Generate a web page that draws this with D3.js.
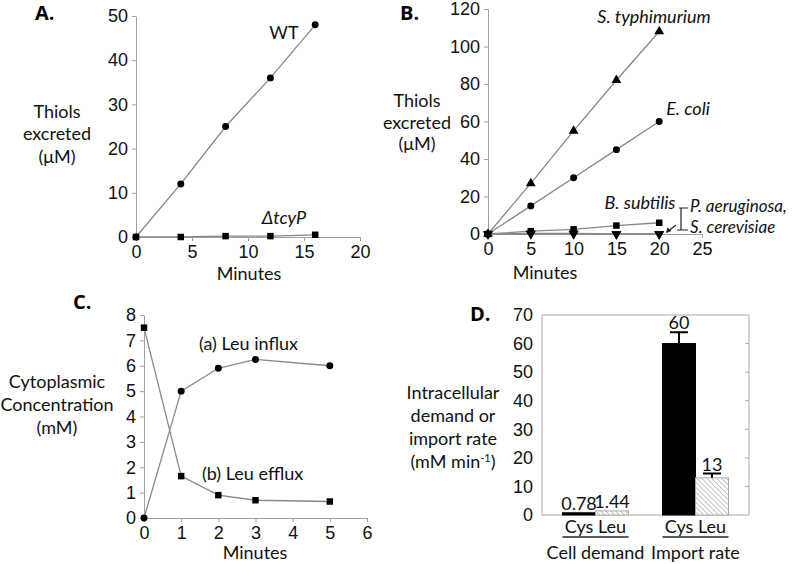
<!DOCTYPE html>
<html>
<head>
<meta charset="utf-8">
<script src="https://cdn.jsdelivr.net/npm/d3@7"></script>
<style>
  body { margin: 0; background: #fff; }
  svg { font-family: Lato, "Open Sans", sans-serif; }
  .axis path, .axis line { stroke: #a0a0a0; }
  .axis text { font-size: 18px; fill: #111; }
  .series { fill: none; stroke: #888; stroke-width: 1.3; }
  .lbl { font-size: 18px; fill: #111; }
</style>
</head>
<body>
<div id="chart"></div>
<script>
// PANEL A DATA
const aMinutes = [0, 4, 8, 12, 16];
const aWT = [0, 12, 25, 36, 48];
const aTcyP = [0, 0, 0.2, 0.2, 0.5];

// PANEL B DATA
const bMinutes = [0, 5, 10, 15, 20];
const bTyphi = [0, 27, 55, 82, 108];
const bColi = [0, 15, 30, 45, 60];
const bSubtilis = [0, 1.5, 2.5, 4.5, 6];
const bAerug = [0, 0.3, 0.3, 0, 0];
const bCerev = [0, 0, 0, 0, 0];

// PANEL C DATA
const cMinutes = [0, 1, 2, 3, 5];
const cInflux = [0, 5, 5.9, 6.25, 6];
const cEfflux = [7.5, 1.65, 0.9, 0.7, 0.65];

// PANEL D DATA
const dGroups = ["Cell demand", "Import rate"];
const dAcids = ["Cys", "Leu"];
const dValues = [[0.78, 1.44], [60, 13]];
const dLabels = [["0.78", "1.44"], ["60", "13"]];
const dErrors = [[0, 0], [4, 1.5]];

const width = 800, height = 564;

const svg = d3.select("#chart").append("svg")
    .attr("width", width)
    .attr("height", height);

// hatch pattern for Leu bars
const pat = svg.append("defs").append("pattern")
    .attr("id", "hatch")
    .attr("width", 3.5).attr("height", 3.5)
    .attr("patternUnits", "userSpaceOnUse")
    .attr("patternTransform", "rotate(-45)");
pat.append("rect").attr("width", 3.5).attr("height", 3.5).attr("fill", "#fff");
pat.append("line").attr("x1", 0).attr("y1", 0).attr("x2", 0).attr("y2", 3.5)
    .attr("stroke", "#999").attr("stroke-width", 1.2);

/***** helpers *****/
function drawAxes(x, y, xTicks, yTicks) {
    svg.append("g").attr("class", "axis")
        .attr("transform", `translate(0,${y.range()[0]})`)
        .call(d3.axisBottom(x).tickValues(xTicks).tickFormat(d3.format("d"))
            .tickSize(4).tickPadding(4).tickSizeOuter(0));
    svg.append("g").attr("class", "axis")
        .attr("transform", `translate(${x.range()[0]},0)`)
        .call(d3.axisLeft(y).tickValues(yTicks).tickSize(4).tickPadding(4).tickSizeOuter(0));
}

function drawSeries(x, y, xs, ys, marker) {
    const pts = xs.map((v, i) => ({x: v, y: ys[i]}));
    svg.append("path").datum(pts).attr("class", "series")
        .attr("d", d3.line().x(d => x(d.x)).y(d => y(d.y)));
    const sym = d3.symbol().type(marker.type).size(marker.size);
    svg.append("g").selectAll("path").data(pts).join("path")
        .attr("transform", d => `translate(${x(d.x)},${y(d.y)})${marker.rot ? " rotate(180)" : ""}`)
        .attr("d", sym)
        .attr("fill", "#000");
}

function multiLabel(cx, ys, lines) {
    lines.forEach((t, i) => {
        svg.append("text").attr("class", "lbl")
            .attr("x", cx).attr("y", ys[i])
            .attr("text-anchor", "middle")
            .text(t);
    });
}

function label(x, y, t, anchor, italic) {
    return svg.append("text").attr("class", "lbl")
        .attr("x", x).attr("y", y)
        .attr("text-anchor", anchor || "start")
        .style("font-style", italic ? "italic" : "normal")
        .text(t);
}

function panelTag(x, y, t) {
    svg.append("text").attr("x", x).attr("y", y)
        .style("font-weight", "bold").style("font-size", "20px")
        .attr("font-family", "'Open Sans', sans-serif")
        .text(t);
}

const circle = {type: d3.symbolCircle, size: 38};
const square = {type: d3.symbolSquare, size: 42};
const triUp = {type: d3.symbolTriangle, size: 42};
const triDown = {type: d3.symbolTriangle, size: 42, rot: true};

/***** PANEL A *****/
const ax = d3.scaleLinear().domain([0, 20]).range([136, 360]);
const ay = d3.scaleLinear().domain([0, 50]).range([237, 16]);
drawAxes(ax, ay, [0, 5, 10, 15, 20], [0, 10, 20, 30, 40, 50]);
drawSeries(ax, ay, aMinutes, aWT, circle);
drawSeries(ax, ay, aMinutes, aTcyP, square);
panelTag(35, 20, "A.");
label(284, 39, "WT", "middle");
label(284, 224, "ΔtcyP", "middle", true);
multiLabel(57, [118, 140, 163], ["Thiols", "excreted", "(μM)"]);
label(249, 280, "Minutes", "middle");

/***** PANEL B *****/
const bx = d3.scaleLinear().domain([0, 25]).range([488, 702]);
const by = d3.scaleLinear().domain([0, 120]).range([234, 9]);
drawAxes(bx, by, [0, 5, 10, 15, 20, 25], [0, 20, 40, 60, 80, 100, 120]);
drawSeries(bx, by, bMinutes, bTyphi, triUp);
drawSeries(bx, by, bMinutes, bColi, circle);
drawSeries(bx, by, bMinutes, bSubtilis, square);
drawSeries(bx, by, bMinutes, bAerug, triDown);
drawSeries(bx, by, bMinutes, bCerev, triDown);
panelTag(400, 20, "B.");
multiLabel(417, [107, 129, 150], ["Thiols", "excreted", "(μM)"]);
label(654, 23, "S. typhimurium", "middle", true);
label(688, 115, "E. coli", "middle", true);
label(640, 209, "B. subtilis", "middle", true);
label(690, 212, "P. aeruginosa,", "start", true).style("font-size", "17px");
label(690, 233, "S. cerevisiae", "start", true).style("font-size", "17px");
// bracket and arrow
svg.append("path")
    .attr("d", "M679,208 H688 M681,208 V230 M677,230 H688")
    .attr("stroke", "#222").attr("fill", "none").attr("stroke-width", 1.2);
svg.append("path")
    .attr("d", "M676,225 L667,232")
    .attr("stroke", "#222").attr("stroke-width", 1.2);
svg.append("path")
    .attr("d", "M666,233 L667.5,227.5 L671.5,231 Z")
    .attr("fill", "#222");
label(545, 279, "Minutes", "middle");

/***** PANEL C *****/
const cx = d3.scaleLinear().domain([0, 6]).range([144, 367]);
const cy = d3.scaleLinear().domain([0, 8]).range([518, 315]);
drawAxes(cx, cy, [0, 1, 2, 3, 4, 5, 6], [0, 1, 2, 3, 4, 5, 6, 7, 8]);
drawSeries(cx, cy, cMinutes, cInflux, circle);
drawSeries(cx, cy, cMinutes, cEfflux, square);
panelTag(73, 309, "C.");
label(199, 350, "(a) Leu influx");
label(202, 480, "(b) Leu efflux");
multiLabel(57, [388, 411, 434], ["Cytoplasmic", "Concentration", "(mM)"]);
label(255, 559, "Minutes", "middle");

/***** PANEL D *****/
const dy = d3.scaleLinear().domain([0, 70]).range([515, 315]);
const dx = d3.scaleBand().domain(dGroups).range([542, 749])
    .paddingInner(0.34).paddingOuter(0.205);
const dxs = d3.scaleBand().domain(dAcids).range([0, dx.bandwidth()]);

// frame
svg.append("rect")
    .attr("x", 542).attr("y", dy(70))
    .attr("width", 749 - 542).attr("height", dy(0) - dy(70))
    .attr("fill", "none").attr("stroke", "#aaa");
svg.append("g").attr("class", "axis")
    .attr("transform", "translate(542,0)")
    .call(d3.axisLeft(dy).tickValues(d3.range(0, 71, 10)).tickSize(0).tickPadding(9))
    .call(g => g.select(".domain").remove());
// small inner ticks on the right
svg.append("g").selectAll("line").data(d3.range(10, 70, 10)).join("line")
    .attr("x1", 745).attr("x2", 749)
    .attr("y1", d => dy(d)).attr("y2", d => dy(d))
    .attr("stroke", "#aaa");

const bars = [];
dGroups.forEach((g, gi) => {
    dAcids.forEach((a, ai) => {
        bars.push({group: g, acid: a, value: dValues[gi][ai], label: dLabels[gi][ai], err: dErrors[gi][ai]});
    });
});

const bx0 = d => dx(d.group) + dxs(d.acid);
svg.append("g").selectAll("rect").data(bars).join("rect")
    .attr("x", bx0)
    .attr("y", d => dy(d.value))
    .attr("width", dxs.bandwidth())
    .attr("height", d => dy(0) - dy(d.value))
    .attr("fill", d => d.acid === "Cys" ? "#000" : "url(#hatch)")
    .attr("stroke", d => d.acid === "Cys" ? "#000" : "#aaa")
    .attr("stroke-width", 1);

// error bars
const errBars = bars.filter(d => d.err > 0);
svg.append("g").selectAll("path").data(errBars).join("path")
    .attr("d", d => {
        const c = bx0(d) + dxs.bandwidth() / 2;
        const top = dy(d.value + d.err);
        return `M${c},${dy(d.value)} V${top} M${c - 9},${top} H${c + 9}`;
    })
    .attr("stroke", "#000").attr("stroke-width", 2).attr("fill", "none");

// value labels
svg.append("g").selectAll("text").data(bars).join("text")
    .attr("class", "lbl")
    .attr("x", d => bx0(d) + dxs.bandwidth() / 2)
    .attr("y", d => dy(d.value + d.err) - 3)
    .attr("text-anchor", "middle")
    .text(d => d.label);

// category labels with underline
svg.append("g").selectAll("text").data(bars).join("text")
    .attr("class", "lbl")
    .attr("x", d => bx0(d) + dxs.bandwidth() / 2)
    .attr("y", 533)
    .attr("text-anchor", "middle")
    .text(d => d.acid);
svg.append("g").selectAll("line").data(dGroups).join("line")
    .attr("x1", d => dx(d)).attr("x2", d => dx(d) + dx.bandwidth())
    .attr("y1", 537).attr("y2", 537)
    .attr("stroke", "#222").attr("stroke-width", 1.3);
svg.append("g").selectAll("text").data(dGroups).join("text")
    .attr("class", "lbl")
    .attr("x", d => dx(d) + dx.bandwidth() / 2)
    .attr("y", 559)
    .attr("text-anchor", "middle")
    .text(d => d);

panelTag(470, 321, "D.");
multiLabel(453, [399, 422, 445], ["Intracellular", "demand or", "import rate"]);
const unitLbl = svg.append("text").attr("class", "lbl")
    .attr("x", 453).attr("y", 468).attr("text-anchor", "middle");
unitLbl.append("tspan").text("(mM min");
unitLbl.append("tspan").attr("dy", -6).style("font-size", "11px").text("-1");
unitLbl.append("tspan").attr("dy", 6).text(")");
</script>
</body>
</html>
